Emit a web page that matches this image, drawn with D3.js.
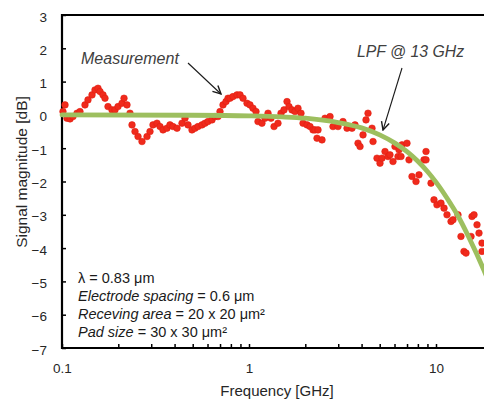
<!DOCTYPE html>
<html>
<head>
<meta charset="utf-8">
<script src="https://cdn.jsdelivr.net/npm/d3@7"></script>
<style>
  body { margin: 0; background: #fff; }
  text { font-family: "Liberation Sans", Arial, sans-serif; }
</style>
</head>
<body>
<svg id="chart"></svg>
<script>
const measFreq = [0.1012, 0.1038, 0.1063, 0.1104, 0.1145, 0.1203, 0.1248, 0.1327, 0.1377, 0.1447,
    0.1501, 0.1558, 0.1597, 0.1657, 0.1698, 0.1762, 0.1851, 0.1920, 0.1993, 0.2094,
    0.2146, 0.2226, 0.2310, 0.2368, 0.2457, 0.2550, 0.2678, 0.2848, 0.2955, 0.3066,
    0.3221, 0.3343, 0.3469, 0.3642, 0.3779, 0.3923, 0.4121, 0.4382, 0.4548, 0.4719,
    0.4957, 0.5143, 0.5338, 0.5607, 0.5817, 0.6035, 0.6340, 0.6579, 0.6827, 0.6997,
    0.7261, 0.7534, 0.7722, 0.7914, 0.8212, 0.8627, 0.8952, 0.9289, 0.9757, 1.012,
    1.050, 1.090, 1.117, 1.173, 1.218, 1.264, 1.311, 1.361, 1.429, 1.483,
    1.539, 1.597, 1.636, 1.698, 1.762, 1.828, 1.897, 1.945, 2.043, 2.120,
    2.200, 2.254, 2.310, 2.339, 2.457, 2.550, 2.712, 2.813, 2.992, 3.181,
    3.343, 3.555, 3.689, 3.828, 3.924, 4.071, 4.224, 4.329, 4.548, 4.605,
    4.836, 5.018, 5.143, 5.338, 5.539, 5.675, 5.889, 6.035, 6.263, 6.341,
    6.499, 6.579, 6.997, 7.172, 7.441, 7.817, 8.112, 8.627, 8.843, 8.843,
    9.404, 9.757, 10.12, 10.63, 11.04, 11.45, 12.03, 12.33, 13.11, 13.60,
    14.11, 14.47, 15.39, 15.58, 15.97, 16.57, 16.98, 17.62, 17.62];
const measDb = [0.10, 0.30, -0.10, -0.12, -0.05, 0.05, 0.10, 0.30, 0.45, 0.60,
    0.75, 0.80, 0.70, 0.60, 0.50, 0.25, 0.15, 0.15, 0.25, 0.35,
    0.50, 0.30, 0.05, -0.30, -0.50, -0.65, -0.80, -0.65, -0.50, -0.30,
    -0.25, -0.35, -0.45, -0.40, -0.30, -0.35, -0.40, -0.25, -0.10, -0.30,
    -0.45, -0.40, -0.35, -0.30, -0.25, -0.20, -0.15, -0.05, -0.05, 0.10,
    0.30, 0.40, 0.50, 0.50, 0.55, 0.60, 0.60, 0.50, 0.35, 0.30,
    0.20, 0.10, -0.20, -0.25, -0.10, 0.05, -0.10, -0.35, -0.25, 0.05,
    0.15, 0.40, 0.25, 0.15, 0.10, 0.20, 0.05, -0.25, -0.30, -0.35,
    -0.45, -0.45, -0.70, -0.45, -0.75, -0.10, -0.05, -0.35, -0.35, -0.20,
    -0.40, -0.40, -0.30, -0.85, -0.95, -0.60, -0.15, 0.05, -0.40, -0.80,
    -1.30, -1.45, -1.30, -1.10, -1.25, -1.20, -1.40, -0.95, -1.25, -1.05,
    -1.25, -0.90, -0.85, -1.35, -1.85, -2.00, -1.80, -1.35, -1.10, -1.35,
    -2.05, -2.55, -2.70, -2.65, -2.80, -3.00, -3.20, -3.15, -3.00, -3.65,
    -4.10, -4.15, -3.65, -3.05, -3.00, -3.30, -3.55, -3.85, -4.10];

// LPF (13 GHz) curve
const lpfFreq = [0.1, 0.5, 1, 1.5, 2, 3, 4, 5, 6, 7, 8, 9, 10, 12, 13, 15, 18, 20];
const lpfDb = [0, -0.01, -0.03, -0.06, -0.1, -0.23, -0.39, -0.6, -0.84, -1.1, -1.39, -1.7, -2.02, -2.68, -3.0, -3.68, -4.65, -5.27];

const yTickValues = [3, 2, 1, 0, -1, -2, -3, -4, -5, -6, -7];
const xMajorTicks = [0.1, 1, 10];
const xMinorTicks = [0.2, 0.3, 0.4, 0.5, 0.6, 0.7, 0.8, 0.9, 2, 3, 4, 5, 6, 7, 8, 9, 20, 30, 40, 50, 60, 70, 80, 90];

// note block: each line is a list of [text, italic]
const noteLines = [
    [["λ = 0.83 ", false], ["μm", false]],
    [["Electrode spacing", true], [" = 0.6 ", false], ["μm", false]],
    [["Receving area", true], [" = 20 x 20 ", false], ["μm²", false]],
    [["Pad size", true], [" = 30 x 30 ", false], ["μm²", false]]
];

function getConfig() {
    let width = 484;
    let height = 400;
    let left = 62, top = 15, bottom = 348;
    let decade = 187;
    let container = d3.select("#chart")
        .attr("width", width)
        .attr("height", height);
    return { width, height, left, top, bottom, decade, container };
}

function getScales(cfg) {
    let x = d3.scaleLog()
        .domain([0.1, 100])
        .range([cfg.left, cfg.left + 3 * cfg.decade]);
    let y = d3.scaleLinear()
        .domain([-7, 3])
        .range([cfg.bottom, cfg.top]);
    return { x, y };
}

function drawAxes(cfg, scales) {
    let { container, left, top, bottom } = cfg;
    let { x, y } = scales;

    let xAxis = container.append("g")
        .attr("transform", "translate(0," + bottom + ")")
        .call(d3.axisBottom(x)
            .tickValues(xMajorTicks.concat(xMinorTicks))
            .tickSize(-4)
            .tickSizeOuter(0)
            .tickPadding(15)
            .tickFormat(d => xMajorTicks.includes(d) ? d3.format("")(d) : ""));
    xAxis.select(".domain").remove();
    xAxis.selectAll("line").attr("stroke", "#000").attr("stroke-width", 1.5);
    xAxis.selectAll("text").attr("font-size", "13.5px").attr("fill", "#262626")
        .attr("font-family", "'Liberation Sans', Arial, sans-serif");

    let yAxis = container.append("g")
        .attr("transform", "translate(" + left + ",0)")
        .call(d3.axisLeft(y)
            .tickValues(yTickValues)
            .tickSize(-4)
            .tickSizeOuter(0)
            .tickPadding(15));
    yAxis.select(".domain").remove();
    yAxis.selectAll("line").attr("stroke", "#000").attr("stroke-width", 1.5);
    yAxis.selectAll("text").attr("font-size", "13.5px").attr("fill", "#262626")
        .attr("dy", "0.45em")
        .attr("font-family", "'Liberation Sans', Arial, sans-serif");

    // frame: left, top, bottom (right side runs off the picture)
    let right = x(100);
    container.append("path")
        .attr("d", "M" + right + "," + top + "H" + left + "V" + bottom + "H" + right)
        .attr("fill", "none")
        .attr("stroke", "#000")
        .attr("stroke-width", 2.2);

    container.append("text")
        .attr("x", 277)
        .attr("y", 396)
        .attr("text-anchor", "middle")
        .attr("font-size", "15px")
        .attr("fill", "#262626")
        .text("Frequency [GHz]");

    container.append("text")
        .attr("transform", "translate(27,172) rotate(-90)")
        .attr("text-anchor", "middle")
        .attr("font-size", "15.5px")
        .attr("fill", "#262626")
        .text("Signal magnitude [dB]");
}

function drawData(cfg, scales) {
    let { container } = cfg;
    let { x, y } = scales;

    let meas = measFreq.map((f, i) => ({ f: f, db: measDb[i] }));
    container.append("g")
        .selectAll("circle")
        .data(meas)
        .enter().append("circle")
        .attr("cx", d => x(d.f))
        .attr("cy", d => y(d.db))
        .attr("r", 3.3)
        .attr("fill", "#f02a1c")
        .attr("stroke", "#e01e10")
        .attr("stroke-width", 0.6);

    let lpf = lpfFreq.map((f, i) => ({ f: f, db: lpfDb[i] }));
    let line = d3.line()
        .x(d => x(d.f))
        .y(d => y(d.db))
        .curve(d3.curveMonotoneX);
    container.append("path")
        .datum(lpf)
        .attr("d", line)
        .attr("fill", "none")
        .attr("stroke", "#9dbf5f")
        .attr("stroke-width", 4.8)
        .attr("stroke-linecap", "round");
}

function drawNotes(cfg) {
    let { container } = cfg;

    container.append("defs").append("marker")
        .attr("id", "head")
        .attr("viewBox", "0 0 10 10")
        .attr("refX", 9)
        .attr("refY", 5)
        .attr("markerWidth", 10)
        .attr("markerHeight", 10)
        .attr("markerUnits", "userSpaceOnUse")
        .attr("orient", "auto")
        .append("path")
        .attr("d", "M1,1 L9,5 L1,9")
        .attr("fill", "none")
        .attr("stroke", "#1a1a1a")
        .attr("stroke-width", 1.4);

    let arrows = [[188, 63, 221, 94], [402, 68, 383, 130]];
    container.selectAll(".arrow")
        .data(arrows)
        .enter().append("line")
        .attr("class", "arrow")
        .attr("x1", d => d[0]).attr("y1", d => d[1])
        .attr("x2", d => d[2]).attr("y2", d => d[3])
        .attr("stroke", "#1a1a1a")
        .attr("stroke-width", 1.1)
        .attr("marker-end", "url(#head)");

    container.append("text")
        .attr("x", 81).attr("y", 64)
        .attr("font-size", "16px")
        .attr("font-style", "italic")
        .attr("fill", "#404040")
        .text("Measurement");

    container.append("text")
        .attr("x", 357).attr("y", 57)
        .attr("font-size", "15.8px")
        .attr("font-style", "italic")
        .attr("fill", "#404040")
        .text("LPF @ 13 GHz");

    let block = container.append("text")
        .attr("font-size", "14.5px")
        .attr("fill", "#1a1a1a");
    noteLines.forEach((parts, i) => {
        parts.forEach((p, j) => {
            let t = block.append("tspan").text(p[0])
                .attr("font-style", p[1] ? "italic" : "normal");
            if (j == 0) t.attr("x", 78).attr("y", 283 + i * 18);
        });
    });
}

let cfg = getConfig();
let scales = getScales(cfg);
drawAxes(cfg, scales);
drawData(cfg, scales);
drawNotes(cfg);
</script>
</body>
</html>
